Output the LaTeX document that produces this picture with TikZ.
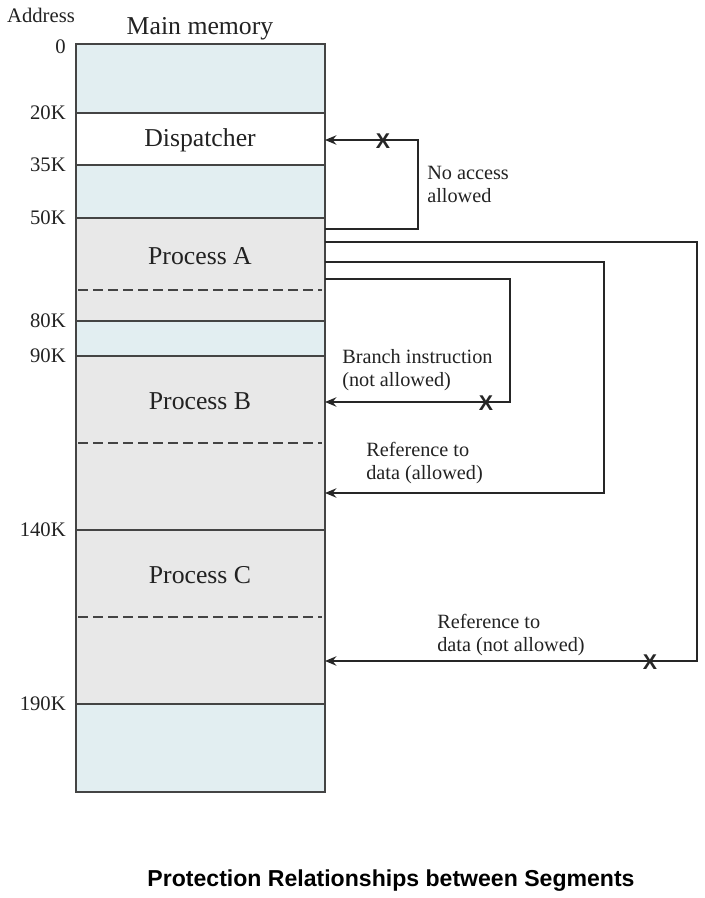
\documentclass[tikz,border=0pt]{standalone}
\usepackage{fontspec}
\setmainfont{Liberation Serif}
\newfontfamily\capfont{Liberation Sans}
\usetikzlibrary{arrows.meta}
\definecolor{memblue}{HTML}{E2EEF1}
\definecolor{memgray}{HTML}{E8E8E8}
\definecolor{memline}{HTML}{444444}
\definecolor{txt}{HTML}{222222}
\begin{document}
\begin{tikzpicture}[x=0.75pt,y=-0.75pt,
  seg/.style={draw=memline, line width=1pt},
  segdash/.style={draw=memline, line width=1pt, dash pattern=on 7.5pt off 3.75pt},
  big/.style={font=\fontsize{19.3}{22}\selectfont, text=txt, inner sep=0pt},
  addr/.style={font=\fontsize{15.5}{18}\selectfont, text=txt, anchor=east, inner sep=0pt},
  lbl/.style={font=\fontsize{15.2}{17.25}\selectfont, text=txt, align=left, anchor=west, inner sep=0pt},
  conn/.style={draw=black!85, line width=1.9pt, -{Stealth[length=8.5pt,width=7pt]}},
  xmark/.style={font=\capfont\bfseries\fontsize{16}{16}\selectfont, text=black!85, inner sep=0pt}
]
\useasboundingbox (0,0) rectangle (704,898);
% segments
\path[seg, fill=memblue] (76,44) rectangle (325,113);
\path[seg, fill=white] (76,113) rectangle (325,165);
\path[seg, fill=memblue] (76,165) rectangle (325,218);
\path[seg, fill=memgray] (76,218) rectangle (325,321);
\path[seg, fill=memblue] (76,321) rectangle (325,356);
\path[seg, fill=memgray] (76,356) rectangle (325,530);
\path[seg, fill=memgray] (76,530) rectangle (325,704);
\path[seg, fill=memblue] (76,704) rectangle (325,792);
\draw[segdash] (78,290) -- (322,290);
\draw[segdash] (78,443) -- (322,443);
\draw[segdash] (78,617) -- (322,617);
% headings
\node[addr, anchor=center] (haddr) at (41,15) {Address};
\node[big] (hmem) at (200,29) {Main memory};
% addresses
\node[addr] (a0) at (66,47) {0};
\node[addr] (a20) at (66,113) {20K};
\node[addr] (a35) at (66,165) {35K};
\node[addr] (a50) at (66,218) {50K};
\node[addr] (a80) at (66,321) {80K};
\node[addr] (a90) at (66,356) {90K};
\node[addr] (a140) at (66,530) {140K};
\node[addr] (a190) at (66,704) {190K};
% segment names
\node[big] (disp) at (200,140) {Dispatcher};
\node[big] (pa) at (200,256) {Process A};
\node[big] (pb) at (200,401) {Process B};
\node[big] (pc) at (200,575) {Process C};
% connector end points on the right edge of memory
\coordinate (dIn) at (325,140);
\coordinate (aOut1) at (325,229);
\coordinate (aOut2) at (325,242);
\coordinate (aOut3) at (325,262);
\coordinate (aOut4) at (325,279);
\coordinate (bIn1) at (325,402);
\coordinate (bIn2) at (325,493);
\coordinate (cIn) at (325,661);
% connectors
\draw[conn] (aOut1) -- ++(93,0) |- (dIn);
\draw[conn] (aOut2) -- ++(372,0) |- (cIn);
\draw[conn] (aOut3) -- ++(279,0) |- (bIn2);
\draw[conn] (aOut4) -- ++(185,0) |- (bIn1);
% X marks
\node[xmark] (x1) at (383,141) {X};
\node[xmark] (x2) at (486,403) {X};
\node[xmark] (x3) at (650,662) {X};
% labels
\node[lbl] (l1) at (427,184) {No access\\allowed};
\node[lbl] (l2) at (342,370) {Branch instruction\\(not allowed)};
\node[lbl] (l3) at (366,463) {Reference to\\data (allowed)};
\node[lbl] (l4) at (437,635) {Reference to\\data (not allowed)};
% caption
\node[font=\capfont\bfseries\fontsize{17.3}{20}\selectfont, inner sep=0pt] (cap) at (391,881) {Protection Relationships between Segments};
\end{tikzpicture}
\end{document}
